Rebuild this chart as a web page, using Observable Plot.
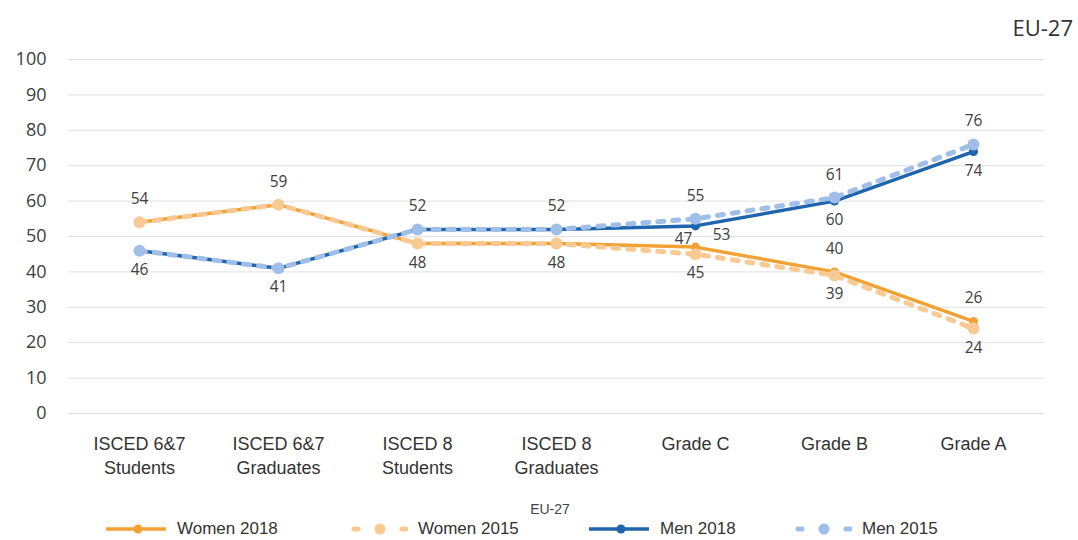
<!DOCTYPE html>
<html>
<head>
<meta charset="utf-8">
<script src="https://cdn.jsdelivr.net/npm/d3@7"></script>
<script src="https://cdn.jsdelivr.net/npm/@observablehq/plot@0.6"></script>
<style>
  html, body { margin: 0; padding: 0; background: #fff; }
  body { width: 1078px; height: 540px; position: relative; overflow: hidden; font-family: "Open Sans", "DejaVu Sans", sans-serif; }
  #title { position: absolute; right: 5px; top: 12px; font-size: 22px; color: #333; }
  #chart { position: absolute; left: 0; top: 40px; }
  #legtitle { position: absolute; left: 0; width: 1100px; top: 501px; text-align: center; font-family: "Liberation Sans", sans-serif; font-size: 14px; color: #444; }
  .leg { position: absolute; top: 519px; display: flex; align-items: center; font-family: "Liberation Sans", sans-serif; font-size: 17px; color: #333; }
  .leg svg { margin-right: 10px; }
</style>
</head>
<body>
<div id="title">EU-27</div>
<div id="chart"></div>
<div id="legtitle">EU-27</div>
<div id="legend"></div>
<script>
const categories = ["ISCED 6&7\nStudents", "ISCED 6&7\nGraduates", "ISCED 8\nStudents", "ISCED 8\nGraduates", "Grade C", "Grade B", "Grade A"];
const women2018 = [54, 59, 48, 48, 47, 40, 26];
const women2015 = [54, 59, 48, 48, 45, 39, 24];
const men2018 = [46, 41, 52, 52, 53, 60, 74];
const men2015 = [46, 41, 52, 52, 55, 61, 76];
const seriesNames = ["Women 2018", "Women 2015", "Men 2018", "Men 2015"];
const yTicks = [0, 10, 20, 30, 40, 50, 60, 70, 80, 90, 100];

const colors = {"Women 2018": "#f2a134", "Women 2015": "#f9c994", "Men 2018": "#1f64ad", "Men 2015": "#a0bfe8"};
const seriesValues = {"Women 2018": women2018, "Women 2015": women2015, "Men 2018": men2018, "Men 2015": men2015};

const rows = [];
for (const s of seriesNames) {
  seriesValues[s].forEach((v, i) => rows.push({series: s, cat: categories[i], value: v}));
}

// data labels
const labels = [];
categories.forEach((c, i) => {
  const groups = [
    {g: "W", a: women2018[i], b: women2015[i], other: (men2018[i] + men2015[i]) / 2},
    {g: "M", a: men2018[i], b: men2015[i], other: (women2018[i] + women2015[i]) / 2}
  ];
  const catLabels = [];
  for (const gr of groups) {
    if (gr.a === gr.b) {
      catLabels.push({cat: c, g: gr.g, value: gr.a, pos: gr.a > gr.other ? "above" : "below"});
    } else {
      const hi = Math.max(gr.a, gr.b), lo = Math.min(gr.a, gr.b);
      catLabels.push({cat: c, g: gr.g, value: hi, pos: "above"});
      catLabels.push({cat: c, g: gr.g, value: lo, pos: "below"});
    }
  }
  // collision: women label above vs men label below when men sit just above women
  const wa = catLabels.find(d => d.g === "W" && d.pos === "above");
  const mb = catLabels.find(d => d.g === "M" && d.pos === "below");
  if (wa && mb && mb.value > wa.value && mb.value - wa.value < 12) { wa.pos = "aboveLeft"; mb.pos = "belowRight"; }
  labels.push(...catLabels);
});

const labelStyle = {fontSize: 15.5, fill: "#404040", fontFamily: "'Open Sans', 'DejaVu Sans', sans-serif"};

const plot = Plot.plot({
  width: 1078,
  height: 445,
  marginTop: 19,
  marginLeft: 68,
  marginRight: 34,
  marginBottom: 72,
  x: {type: "point", domain: categories, padding: 0.5, label: null},
  y: {domain: [0, 100], label: null},
  marks: [
    Plot.gridY(yTicks, {stroke: "#e0e0e0", strokeOpacity: 1, strokeWidth: 1}),
    Plot.axisY(yTicks, {tickSize: 0, tickPadding: 22, fontSize: 18, fill: "#404040", fontFamily: "'Open Sans', 'DejaVu Sans', sans-serif"}),
    Plot.axisX({tickSize: 0, tickPadding: 19, fontSize: 18, fill: "#333", lineHeight: 1.35, fontFamily: "'Liberation Sans', sans-serif"}),
    Plot.line(rows.filter(d => d.series === "Women 2018"), {x: "cat", y: "value", stroke: colors["Women 2018"], strokeWidth: 3.5}),
    Plot.line(rows.filter(d => d.series === "Women 2015"), {x: "cat", y: "value", stroke: colors["Women 2015"], strokeWidth: 5, strokeDasharray: "6,9", strokeLinecap: "round"}),
    Plot.line(rows.filter(d => d.series === "Men 2018"), {x: "cat", y: "value", stroke: colors["Men 2018"], strokeWidth: 3.5}),
    Plot.line(rows.filter(d => d.series === "Men 2015"), {x: "cat", y: "value", stroke: colors["Men 2015"], strokeWidth: 5, strokeDasharray: "6,9", strokeLinecap: "round"}),
    Plot.dot(rows.filter(d => d.series.endsWith("2018")), {x: "cat", y: "value", r: 4.5, fill: d => colors[d.series], stroke: "none"}),
    Plot.dot(rows.filter(d => d.series.endsWith("2015")), {x: "cat", y: "value", r: 6, fill: d => colors[d.series], stroke: "none"}),
    Plot.text(labels.filter(d => d.pos === "above"), {x: "cat", y: "value", text: d => String(d.value), dy: -23, ...labelStyle}),
    Plot.text(labels.filter(d => d.pos === "below"), {x: "cat", y: "value", text: d => String(d.value), dy: 19, ...labelStyle}),
    Plot.text(labels.filter(d => d.pos === "aboveLeft"), {x: "cat", y: "value", text: d => String(d.value), dy: -8, dx: -12, ...labelStyle}),
    Plot.text(labels.filter(d => d.pos === "belowRight"), {x: "cat", y: "value", text: d => String(d.value), dy: 9, dx: 26, ...labelStyle})
  ]
});
document.getElementById("chart").appendChild(plot);

// legend
const legendPos = {"Women 2018": 105, "Women 2015": 346, "Men 2018": 588, "Men 2015": 790};
const legend = document.getElementById("legend");
for (const s of seriesNames) {
  const dashed = s.endsWith("2015");
  const div = document.createElement("div");
  div.className = "leg";
  div.style.left = legendPos[s] + "px";
  const c = colors[s];
  div.innerHTML = `<svg width="62" height="20">` +
    (dashed
      ? `<line x1="8" y1="10" x2="60" y2="10" stroke="${c}" stroke-width="5" stroke-dasharray="4,20" stroke-linecap="round"/><circle cx="34" cy="10" r="5.5" fill="${c}"/>`
      : `<line x1="1" y1="10" x2="61" y2="10" stroke="${c}" stroke-width="3.5"/><circle cx="33" cy="10" r="4.5" fill="${c}"/>`) +
    `</svg><span>${s}</span>`;
  legend.appendChild(div);
}
</script>
</body>
</html>
